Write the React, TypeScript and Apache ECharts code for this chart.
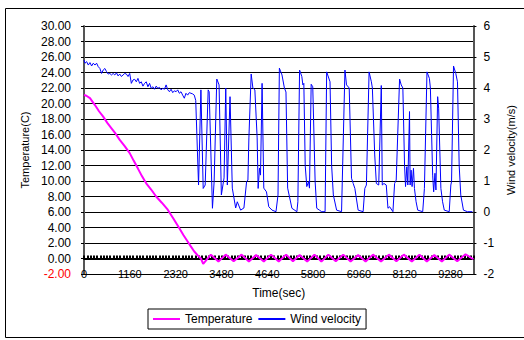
import { useEffect, useRef } from "react";
import * as echarts from "echarts";

const FONT = "'Liberation Sans', Arial, sans-serif";

// Temperature (C) against time (sec)
const temperature: [number, number][] = [
  [0, 21.1], [60, 21.0], [151, 20.7], [277, 19.8], [380, 19.0], [486, 18.3], [590, 17.5],
  [696, 16.8], [800, 16.1], [905, 15.3], [1030, 14.5], [1157, 13.6], [1260, 12.6],
  [1366, 11.6], [1470, 10.6], [1575, 9.7], [1700, 8.9], [1826, 8.0], [1970, 7.2],
  [2120, 6.3], [2270, 5.1], [2414, 3.9], [2520, 3.0], [2624, 2.2], [2700, 1.6],
  [2792, 0.9], [2880, 0.4], [2960, 0.0], [3018, -0.7],
  [3211, 0.5], [3404, -0.4], [3588, 0.5], [3789, -0.35], [3990, 0.5], [4175, -0.4],
  [4358, 0.45], [4552, -0.4], [4735, 0.5], [4930, -0.4], [5117, 0.5], [5290, -0.35],
  [5460, 0.45], [5650, -0.4], [5835, 0.5], [6010, -0.4], [6187, 0.5], [6375, -0.35],
  [6564, 0.5], [6750, -0.4], [6942, 0.45], [7130, -0.4], [7319, 0.5], [7520, -0.4],
  [7720, 0.5], [7910, -0.35], [8098, 0.5], [8300, -0.4], [8493, 0.5], [8680, -0.4],
  [8870, 0.45], [9060, -0.4], [9247, 0.5], [9450, -0.35], [9660, 0.55], [9859, -0.1],
];

// Wind velocity (m/s) against time (sec)
const windVelocity: [number, number][] = [
  [0, 4.9], [25, 4.8], [67, 4.85], [109, 4.74], [151, 4.82], [193, 4.71], [235, 4.8],
  [277, 4.74], [319, 4.8], [360, 4.69], [402, 4.63], [444, 4.47], [486, 4.58], [528, 4.63],
  [570, 4.53], [612, 4.45], [654, 4.47], [696, 4.42], [738, 4.47], [780, 4.42], [822, 4.49],
  [863, 4.39], [905, 4.45], [947, 4.37], [989, 4.42], [1031, 4.47], [1073, 4.45], [1115, 4.37],
  [1157, 4.47], [1199, 4.15], [1241, 4.26], [1283, 4.28], [1325, 4.2], [1366, 4.31],
  [1408, 4.15], [1450, 4.2], [1492, 4.06], [1534, 4.15], [1576, 4.2], [1618, 4.04],
  [1660, 4.15], [1702, 3.99], [1744, 4.04], [1786, 3.96], [1828, 4.06], [1869, 3.99],
  [1911, 4.02], [1953, 3.94], [1995, 3.99], [2037, 3.96], [2079, 4.1], [2121, 3.94],
  [2163, 3.88], [2205, 3.96], [2247, 3.85], [2289, 3.91], [2331, 3.88], [2372, 3.94],
  [2414, 3.83], [2456, 3.88], [2498, 3.77], [2540, 3.67], [2582, 3.83], [2624, 3.77],
  [2666, 3.85], [2708, 3.83], [2750, 3.81], [2792, 3.77], [2829, 3.6],
  [2900, 0.87], [2960, 3.94], [3018, 0.76], [3068, 0.87], [3144, 3.94], [3169, 3.88],
  [3252, 0.12], [3295, 0.98], [3362, 4.29], [3420, 4.1], [3478, 0.55], [3546, 1.1],
  [3589, 4.0], [3629, 0.87], [3697, 3.72], [3755, 0.77], [3840, 0.13], [3881, 0.33],
  [3966, 0.06], [4049, 0.13], [4117, 0.98], [4150, 1.03], [4175, 2.39], [4233, 4.45],
  [4276, 4.0], [4326, 3.94], [4384, 2.39], [4409, 0.76], [4444, 1.42], [4469, 1.19],
  [4509, 4.15], [4552, 0.77], [4620, 0.65], [4678, 0.17], [4761, 0.06], [4861, 0.01],
  [4912, 0.55], [4947, 4.64], [5013, 4.42], [5074, 4.0], [5114, 3.87], [5156, 0.77],
  [5264, 0.12], [5390, 0.01], [5415, 0.33], [5458, 4.58], [5515, 4.37], [5541, 4.1],
  [5566, 4.15], [5601, 1.5], [5641, 0.82], [5684, 0.98], [5709, 0.77], [5752, 4.12],
  [5792, 4.04], [5852, 0.98], [5893, 0.12], [5961, 0.06], [6018, 0.01], [6104, 0.01],
  [6144, 4.52], [6229, 4.2], [6270, 1.5], [6313, 0.55], [6396, 0.06], [6521, 0.01],
  [6607, 4.58], [6647, 4.1], [6715, 4.0], [6773, 1.09], [6816, 0.92], [6858, 0.76],
  [6941, 0.06], [7067, 0.01], [7110, 0.76], [7150, 0.87], [7218, 4.52], [7276, 4.2],
  [7301, 4.0], [7361, 1.84], [7402, 0.92], [7462, 0.87], [7527, 4.08], [7552, 0.87],
  [7595, 0.92], [7653, 0.87], [7696, 0.12], [7738, 0.17], [7822, 0.01], [7864, 0.92],
  [7905, 1.03], [7990, 4.29], [8031, 4.1], [8073, 4.0], [8116, 1.5], [8141, 0.82],
  [8174, 1.46], [8199, 0.87], [8242, 3.24], [8257, 0.87], [8282, 1.35], [8307, 0.82],
  [8342, 1.41], [8367, 0.76], [8408, 0.33], [8450, 0.06], [8576, 0.01], [8619, 0.76],
  [8684, 4.52], [8745, 4.31], [8770, 4.0], [8828, 1.19], [8853, 0.65], [8886, 1.25],
  [8911, 0.71], [8954, 3.72], [8979, 3.35], [9036, 0.76], [9079, 0.33], [9122, 0.06],
  [9247, 0.01], [9288, 0.87], [9306, 0.98], [9356, 4.71], [9413, 4.47], [9456, 4.2],
  [9499, 1.5], [9539, 0.55], [9607, 0.06], [9708, 0.01], [9834, 0.01],
];

const timeMin = 0;
const timeMax = 9860;
const timeStep = 1160;
const tempMin = -2;
const tempMax = 30;
const tempStep = 2;
const windMin = -2;
const windMax = 6;
const windStep = 1;

export default function App() {
  const ref = useRef<HTMLDivElement>(null);
  useEffect(() => {
    if (!ref.current) return;
    const chart = echarts.init(ref.current, null, { renderer: "svg" });
    chart.setOption({
      animation: false,
      backgroundColor: "#ffffff",
      textStyle: { fontFamily: FONT, color: "#000" },
      grid: { left: 84, right: 48, top: 26, bottom: 66, containLabel: false },
      legend: {
        left: 148,
        top: 309,
        padding: [4, 5],
        itemGap: 6,
        itemWidth: 27,
        itemHeight: 2,
        icon: "rect",
        borderColor: "#000",
        borderWidth: 1,
        textStyle: { fontSize: 12, color: "#000", fontFamily: FONT },
        data: ["Temperature", "Wind velocity"],
      },
      graphic: [
        {
          type: "rect",
          silent: true,
          shape: { x: 5.5, y: 8.5, width: 530, height: 329 },
          style: { fill: "none", stroke: "#000", lineWidth: 1 },
        },
      ],
      xAxis: [
        {
          type: "value",
          min: timeMin,
          max: timeMax,
          interval: timeStep,
          position: "bottom",
          name: "Time(sec)",
          nameLocation: "middle",
          nameGap: 13,
          nameTextStyle: { fontSize: 12, color: "#000", fontFamily: FONT },
          axisLine: { onZero: false, lineStyle: { color: "#000", width: 1 } },
          axisTick: { show: false },
          axisLabel: {
            fontSize: 11,
            color: "#000",
            margin: -6,
            showMaxLabel: false,
            fontFamily: FONT,
            formatter: (v: number) => String(Math.round(Number(v))),
          },
          splitLine: { show: false },
        },
        {
          type: "value",
          min: timeMin,
          max: timeMax,
          interval: 83,
          position: "top",
          axisLine: { show: true, onZero: true, onZeroAxisIndex: 0, lineStyle: { color: "#000", width: 2 } },
          axisTick: { show: true, length: 3, lineStyle: { color: "#000", width: 2 } },
          axisLabel: { show: false },
          splitLine: { show: false },
        },
      ],
      yAxis: [
        {
          type: "value",
          min: tempMin,
          max: tempMax,
          interval: tempStep,
          position: "left",
          name: "Temperature(C)",
          nameLocation: "middle",
          nameRotate: 90,
          nameGap: 51,
          nameTextStyle: { fontSize: 11, color: "#000", fontFamily: FONT },
          axisLine: { show: true, onZero: false, lineStyle: { color: "#555", width: 2 } },
          axisTick: { show: true, length: 3, lineStyle: { color: "#000" } },
          axisLabel: {
            fontSize: 12,
            margin: 13,
            fontFamily: FONT,
            formatter: (v: number) => Number(v).toFixed(2),
            color: (v: any) => (Number(v) < 0 ? "#ff0000" : "#000000"),
          },
          splitLine: { show: true, lineStyle: { color: "#000", width: 1 } },
        },
        {
          type: "value",
          min: windMin,
          max: windMax,
          interval: windStep,
          position: "right",
          name: "Wind velocity(m/s)",
          nameLocation: "middle",
          nameRotate: 90,
          nameGap: 25,
          nameTextStyle: { fontSize: 11, color: "#000", fontFamily: FONT },
          axisLine: { show: true, onZero: false, lineStyle: { color: "#555", width: 2 } },
          axisTick: { show: true, length: 3, lineStyle: { color: "#000" } },
          axisLabel: { fontSize: 12, margin: 10, color: "#000", fontFamily: FONT },
          splitLine: { show: false },
        },
      ],
      series: [
        {
          name: "Temperature",
          type: "line",
          xAxisIndex: 0,
          yAxisIndex: 0,
          data: temperature,
          showSymbol: false,
          color: "#ff00ff",
          lineStyle: { color: "#ff00ff", width: 2 },
          z: 3,
        },
        {
          name: "Wind velocity",
          type: "line",
          xAxisIndex: 0,
          yAxisIndex: 1,
          data: windVelocity,
          showSymbol: false,
          color: "#0000ff",
          lineStyle: { color: "#0000ff", width: 1 },
          z: 4,
        },
      ],
    });
    return () => chart.dispose();
  }, []);
  return (
    <div
      ref={ref}
      style={{ position: "absolute", left: 0, top: 0, width: 524, height: 340, background: "#fff" }}
    />
  );
}
